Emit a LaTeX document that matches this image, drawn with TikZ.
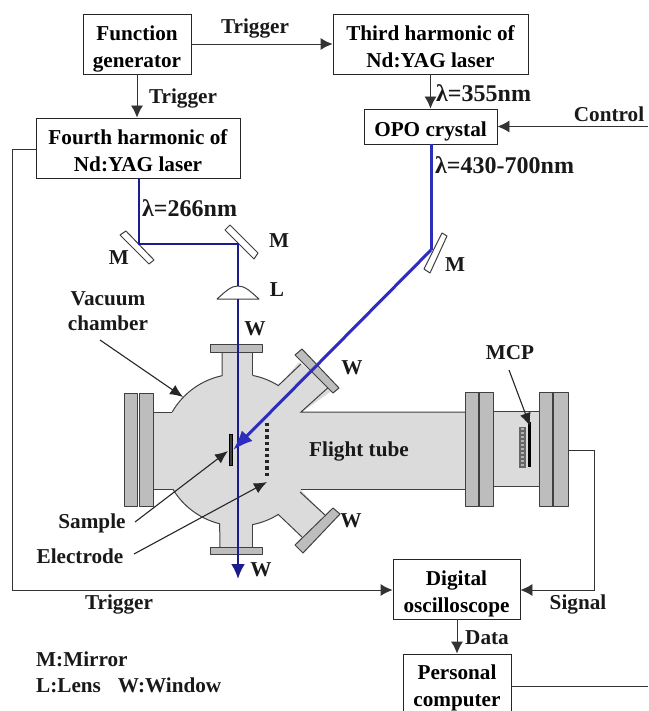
\documentclass[tikz,border=0pt]{standalone}
\usepackage{fontspec}
\setmainfont{Liberation Serif}
\usetikzlibrary{arrows.meta,calc}
\definecolor{bodyfill}{gray}{0.86}
\definecolor{flangefill}{gray}{0.74}
\definecolor{edgegray}{gray}{0.25}
\definecolor{beamdark}{RGB}{28,28,140}
\definecolor{beamblue}{RGB}{45,45,190}
\newcommand{\boxtext}[1]{\raisebox{-9.5pt}[0pt][0pt]{\begin{tabular}[c]{@{}c@{}}#1\end{tabular}}}
\tikzset{
  boxnode/.style={draw=black!85,line width=0.9pt,inner sep=0pt,font=\bfseries\fontsize{21.2}{27}\selectfont},
  lbl/.style={font=\bfseries\fontsize{21.2}{25.5}\selectfont,inner sep=0pt,text=black!90},
  lamlbl/.style={font=\bfseries\fontsize{24}{26}\selectfont,inner sep=0pt,anchor=west,text=black!90},
  wire/.style={draw=black!80,line width=0.9pt},
  wirearrow/.style={wire,-{Latex[length=12pt,width=12pt]}},
  leader/.style={draw=black!85,line width=1.1pt,-{Latex[length=13pt,width=11pt]}},
  flange/.style={fill=flangefill,draw=edgegray,line width=1pt,line join=round},
  edgeline/.style={draw=edgegray,line width=1pt},
  bodypart/.style={fill=bodyfill,draw=none},
  mirror/.style={fill=white,draw=edgegray,line width=1pt,line join=round},
  beamA/.style={draw=beamdark,line width=2.4pt},
  beamB/.style={draw=beamblue,line width=3pt}
}
\begin{document}
\begin{tikzpicture}[x=1pt,y=-1pt]
\useasboundingbox (0,0) rectangle (648,711);
% vacuum chamber body
\coordinate (cc) at (238,450);
\fill[bodyfill] (cc) circle[radius=76pt];
\path[bodypart] (153,412) rectangle (200,489);
\path[bodypart] (222,352) rectangle (252,400);
\path[bodypart] (220,500) rectangle (252,547);
\path[bodypart] (280,412) rectangle (465,489);
\path[bodypart] (493,412) rectangle (539,486);
\path[bodypart] (278,387) -- (299,362) -- (333,390) -- (302,412) -- (270,430) -- cycle;
\path[bodypart] (278,513) -- (302,537) -- (325,515) -- (300,489) -- (270,470) -- cycle;
% outlines
\draw[edgeline] (153,412) -- (172,412);
\draw[edgeline] (cc) ++(150:76pt) arc[start angle=150,end angle=102,radius=76pt] -- (222,352);
\draw[edgeline] (252,352) -- (252,375);
\draw[edgeline] (cc) ++(79:76pt) arc[start angle=79,end angle=58,radius=76pt] -- (301,364);
\draw[edgeline] (331,385) -- (301,412) -- (465,412);
\draw[edgeline] (153,489) -- (173,489);
\draw[edgeline] (cc) ++(211:76pt) arc[start angle=211,end angle=256,radius=76pt] -- (220,547);
\draw[edgeline] (252,547) -- (252,524);
\draw[edgeline] (cc) ++(281:76pt) arc[start angle=281,end angle=302,radius=76pt] -- (302,537);
\draw[edgeline] (325,515) -- (300,492);
\draw[edgeline] (301,489) -- (465,489);
\draw[edgeline] (493,411) -- (539,411);
\draw[edgeline] (493,486) -- (539,486);
% flanges
\draw[flange] (124,393) rectangle (137,506);
\draw[flange] (139,393) rectangle (153,506);
\draw[flange] (210,344) rectangle (262,352);
\draw[flange] (210,547) rectangle (262,554);
\draw[flange] (295,355) -- (302,349) -- (339,388) -- (333,393) -- cycle;
\draw[flange] (333,508) -- (340,514) -- (303,553) -- (295,545) -- cycle;
\draw[flange] (465,392) rectangle (493,506);
\draw[draw=edgegray,line width=2pt] (479,392) -- (479,506);
\draw[flange] (539,392) rectangle (568,506);
\draw[draw=edgegray,line width=2pt] (553,392) -- (553,506);
% MCP
\fill[gray!80!black] (519,427) rectangle (526,468);
\draw[white!40!gray,line width=3pt,dash pattern=on 1.5pt off 2.5pt] (522.5,428) -- (522.5,467);
\fill[black] (528,422) rectangle (531,467);
% sample and electrode
\draw[fill=edgegray,draw=black,line width=0.6pt] (229,434) rectangle (232,465);
\coordinate (eTop) at (267,423);
\coordinate (eEnd) at (267,478);
\draw[black!85,line width=3.4pt,dash pattern=on 3.2pt off 3pt] (eTop) -- (eEnd);
% mirrors and lens
\draw[mirror] (120,235) -- (126,231) -- (154,260) -- (149,264) -- cycle;
\draw[mirror] (225,230) -- (230,225) -- (258,253) -- (254,259) -- cycle;
\draw[mirror] (442,233) -- (447,236) -- (430,273) -- (424,269) -- cycle;
\draw[fill=white,draw=edgegray,line width=1pt,line join=round] (217,299) .. controls (226,291) and (231,286) .. (238,286) .. controls (245,286) and (250,291) .. (259,299) -- cycle;
% boxes
\node[boxnode,minimum width=108pt,minimum height=60pt] (fg) at (137,44) {\boxtext{Function\\generator}};
\node[boxnode,minimum width=195pt,minimum height=60pt] (third) at (430.5,44) {\boxtext{Third harmonic of\\Nd:YAG laser}};
\node[boxnode,minimum width=204pt,minimum height=60pt] (fourth) at (138,148) {\boxtext{Fourth harmonic of\\Nd:YAG laser}};
\node[boxnode,minimum width=133pt,minimum height=35pt] (opo) at (430.5,126.5) {\boxtext{OPO crystal}};
\node[boxnode,minimum width=127pt,minimum height=60pt] (dso) at (456.5,589) {\boxtext{Digital\\oscilloscope}};
\node[boxnode,minimum width=108pt,minimum height=58pt] (pc) at (457,683) {\boxtext{Personal\\computer}};
% beam points
\coordinate (b1) at (139,244);
\coordinate (b2) at (238,244);
\coordinate (bEnd) at (238,579);
\coordinate (b3) at (431,250);
\coordinate (sTip) at (233,450);
% beams
\draw[beamA] (139,178) -- (b1) -- (b2) -- (238,286);
\draw[beamA] (238,299) -- (238,345);
\draw[beamA,-{Latex[length=15pt,width=14pt]}] (238,345) -- (bEnd);
\draw[beamB] (431,144) -- (b3);
\draw[beamB,-{Latex[length=20pt,width=15pt]}] (b3) -- (sTip);
% wires
\draw[wirearrow] (fg.east) -- (third.west);
\draw[wirearrow] (fg.south) -- (fourth.north -| fg.south);
\draw[wirearrow] (third.south -| opo.north) -- (opo.north);
\coordinate (ctl) at (648,126.5);
\draw[wirearrow] (ctl) -- (opo.east);
\coordinate (t1) at (12,149);
\coordinate (t2) at (12,590);
\draw[wirearrow] (fourth.west |- t1) -- (t1) -- (t2) -- (t2 -| dso.west);
\coordinate (s0) at (568,450);
\coordinate (s1) at (594,450);
\coordinate (s2) at (594,590);
\draw[wirearrow] (s0) -- (s1) -- (s2) -- (s2 -| dso.east);
\draw[wirearrow] (dso.south -| pc.north) -- (pc.north);
\coordinate (pcR) at (648,686);
\draw[wire] (pc.east |- pcR) -- (pcR);
% labels
\node[lbl] (trigA) at (255,28) {Trigger};
\node[lbl] (trigB) at (183,98) {Trigger};
\node[lbl] (trigC) at (119,604) {Trigger};
\node[lbl] (ctlL) at (609,114) {Control};
\node[lamlbl] (l355) at (436,93) {λ=355nm};
\node[lamlbl] (l430) at (435,165) {λ=430-700nm};
\node[lamlbl] (l266) at (142,208) {λ=266nm};
\node[lbl] (m1) at (119,258) {M};
\node[lbl] (m2) at (279,241) {M};
\node[lbl] (m3) at (455,265) {M};
\node[lbl] (lL) at (277,290) {L};
\node[lbl] (w1) at (255,329) {W};
\node[lbl] (w2) at (352,368) {W};
\node[lbl] (w3) at (351,521) {W};
\node[lbl] (w4) at (261,570) {W};
\node[lbl,align=center] (vac) at (108,311) {Vacuum\\chamber};
\node[lbl] (ft) at (359,451) {Flight tube};
\node[lbl] (mcp) at (510,353) {MCP};
\node[lbl] (sam) at (92,523) {Sample};
\node[lbl] (ele) at (80,556) {Electrode};
\node[lbl] (sig) at (578,604) {Signal};
\node[lbl] (dat) at (487,638) {Data};
\node[lbl,anchor=west] (key1) at (36,659) {M:Mirror};
\node[lbl,anchor=west] (key2) at (36,685) {L:Lens\hspace{17pt}W:Window};
% leaders
\coordinate (vacS) at (100,340);
\coordinate (vacT) at (183,397);
\coordinate (samS) at (135,522);
\coordinate (samT) at (228,451);
\coordinate (eleS) at (134,554);
\coordinate (eleT) at (267,482);
\coordinate (mcpS) at (509,370);
\coordinate (mcpT) at (530,426);
\draw[leader] (vacS) -- (vacT);
\draw[leader] (samS) -- (samT);
\draw[leader] (eleS) -- (eleT);
\draw[leader] (mcpS) -- (mcpT);
\end{tikzpicture}
\end{document}
